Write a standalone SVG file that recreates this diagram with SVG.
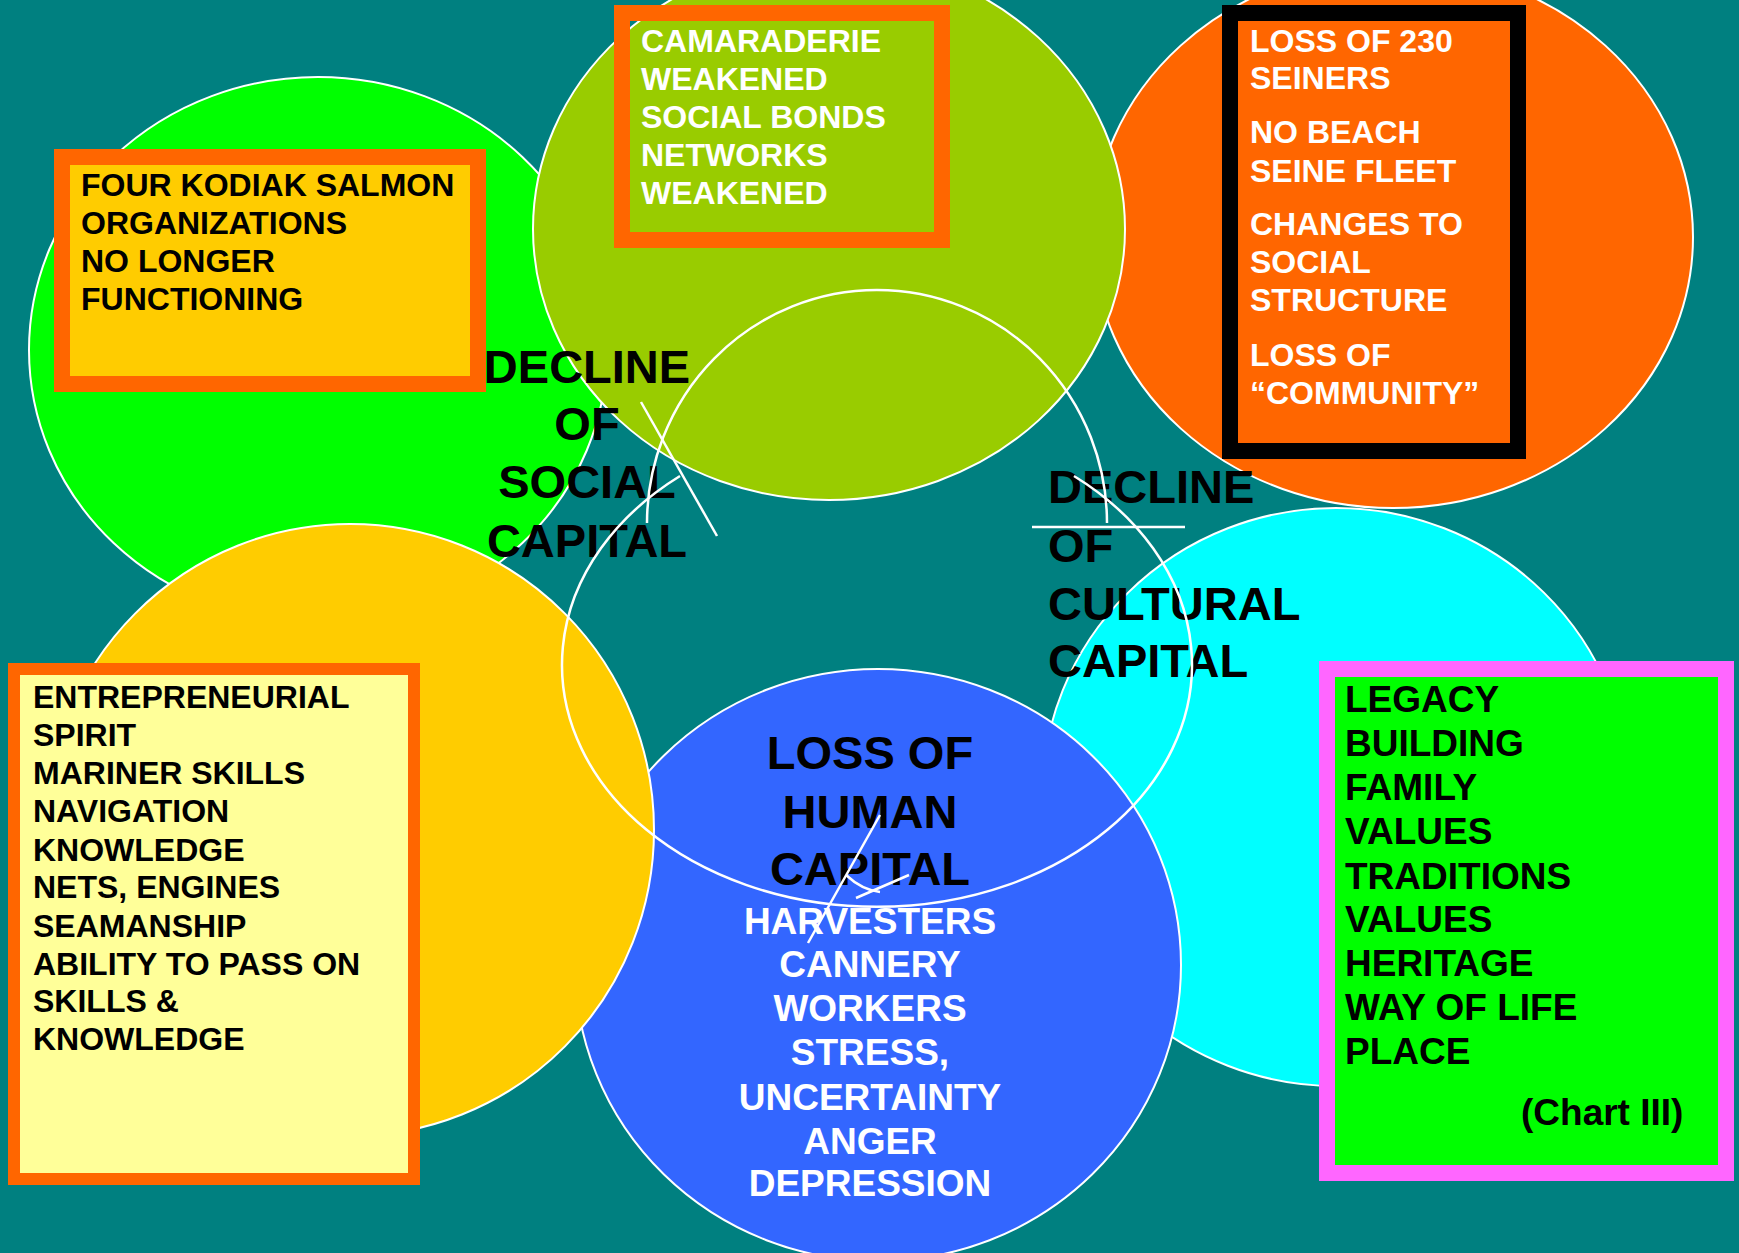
<svg xmlns="http://www.w3.org/2000/svg" width="1739" height="1253" viewBox="0 0 1739 1253">
<style>
.ell{stroke:#fff;stroke-width:2}
.t{font-family:"Liberation Sans",Arial,Helvetica,sans-serif;font-weight:bold}
.s32{font-size:32px}
.s37{font-size:37px}
.s47{font-size:47px}
.w{fill:#fff}
.k{fill:#000}
.mid{text-anchor:middle}
.conn{fill:none;stroke:#fff;stroke-width:2.5}
</style>
<rect width="1739" height="1253" fill="#008080"/>
<g id="ellipse-green"><ellipse class="ell" cx="318" cy="350" rx="289" ry="273" fill="#00FF00"/></g>
<g id="ellipse-orange"><ellipse class="ell" cx="1393" cy="237" rx="300" ry="271" fill="#FF6600"/></g>
<g id="ellipse-yellowgreen"><ellipse class="ell" cx="829" cy="229" rx="296" ry="271" fill="#99CC00"/></g>
<g id="ellipse-cyan"><ellipse class="ell" cx="1336" cy="797" rx="294" ry="289" fill="#00FFFF"/></g>
<g id="ellipse-blue"><ellipse class="ell" cx="878" cy="965" rx="303" ry="296" fill="#3366FF"/></g>
<g id="ellipse-yellow"><ellipse class="ell" cx="350" cy="830" rx="304" ry="306" fill="#FFCC00"/></g>

<g id="title-social" class="t s47 k mid">
<text x="587" y="383">DECLINE</text>
<text x="587" y="440">OF</text>
<text x="587" y="498">SOCIAL</text>
<text x="587" y="557">CAPITAL</text>
</g>
<g id="title-cultural" class="t s47 k">
<text x="1048" y="503">DECLINE</text>
<text x="1048" y="562">OF</text>
<text x="1048" y="620">CULTURAL</text>
<text x="1048" y="677">CAPITAL</text>
</g>
<g id="title-human" class="t s47 k mid">
<text x="870" y="769">LOSS OF</text>
<text x="870" y="828">HUMAN</text>
<text x="870" y="885">CAPITAL</text>
</g>
<g id="human-items" class="t s37 w mid">
<text x="870" y="934">HARVESTERS</text>
<text x="870" y="977">CANNERY</text>
<text x="870" y="1021">WORKERS</text>
<text x="870" y="1065">STRESS,</text>
<text x="870" y="1110">UNCERTAINTY</text>
<text x="870" y="1154">ANGER</text>
<text x="870" y="1196">DEPRESSION</text>
</g>

<g id="connectors">
<path class="conn" d="M 647 523 A 230 233 0 0 1 1107 523"/>
<path class="conn" d="M 680 476 A 315 242 0 1 0 1074 476"/>
<line class="conn" x1="641" y1="402" x2="717" y2="536"/>
<line class="conn" x1="880" y1="815" x2="808" y2="943"/>
<line class="conn" x1="1032" y1="527" x2="1185" y2="527"/>
<path class="conn" d="M 846 875 Q 862 890 880 892"/>
<line class="conn" x1="909" y1="875" x2="856" y2="898"/>
</g>

<g id="box-organizations">
<rect x="62" y="157" width="416" height="227" fill="#FFCC00" stroke="#FF6600" stroke-width="16"/>
<g class="t s32 k">
<text x="81" y="196">FOUR KODIAK SALMON</text>
<text x="81" y="234">ORGANIZATIONS</text>
<text x="81" y="272">NO LONGER</text>
<text x="81" y="310">FUNCTIONING</text>
</g>
</g>
<g id="box-camaraderie">
<rect x="622" y="13" width="320" height="227" fill="none" stroke="#FF6600" stroke-width="16"/>
<g class="t s32 w">
<text x="641" y="52">CAMARADERIE</text>
<text x="641" y="90">WEAKENED</text>
<text x="641" y="128">SOCIAL BONDS</text>
<text x="641" y="166">NETWORKS</text>
<text x="641" y="204">WEAKENED</text>
</g>
</g>
<g id="box-seiners">
<rect x="1230" y="13" width="288" height="438" fill="none" stroke="#000" stroke-width="16"/>
<g class="t s32 w">
<text x="1250" y="52">LOSS OF 230</text>
<text x="1250" y="89">SEINERS</text>
<text x="1250" y="143">NO BEACH</text>
<text x="1250" y="182">SEINE FLEET</text>
<text x="1250" y="235">CHANGES TO</text>
<text x="1250" y="273">SOCIAL</text>
<text x="1250" y="311">STRUCTURE</text>
<text x="1250" y="366">LOSS OF</text>
<text x="1250" y="404">“COMMUNITY”</text>
</g>
</g>
<g id="box-skills">
<rect x="14" y="669" width="400" height="510" fill="#FFFF99" stroke="#FF6600" stroke-width="12"/>
<g class="t s32 k">
<text x="33" y="708">ENTREPRENEURIAL</text>
<text x="33" y="746">SPIRIT</text>
<text x="33" y="784">MARINER SKILLS</text>
<text x="33" y="822">NAVIGATION</text>
<text x="33" y="861">KNOWLEDGE</text>
<text x="33" y="898">NETS, ENGINES</text>
<text x="33" y="937">SEAMANSHIP</text>
<text x="33" y="975">ABILITY TO PASS ON</text>
<text x="33" y="1012">SKILLS &amp;</text>
<text x="33" y="1050">KNOWLEDGE</text>
</g>
</g>
<g id="box-legacy">
<rect x="1327" y="669" width="399" height="504" fill="#00FF00" stroke="#FF66FF" stroke-width="16"/>
<g class="t s37 k">
<text x="1345" y="712">LEGACY</text>
<text x="1345" y="756">BUILDING</text>
<text x="1345" y="800">FAMILY</text>
<text x="1345" y="844">VALUES</text>
<text x="1345" y="889">TRADITIONS</text>
<text x="1345" y="932">VALUES</text>
<text x="1345" y="976">HERITAGE</text>
<text x="1345" y="1020">WAY OF LIFE</text>
<text x="1345" y="1064">PLACE</text>
<text x="1521" y="1125">(Chart III)</text>
</g>
</g>
</svg>
